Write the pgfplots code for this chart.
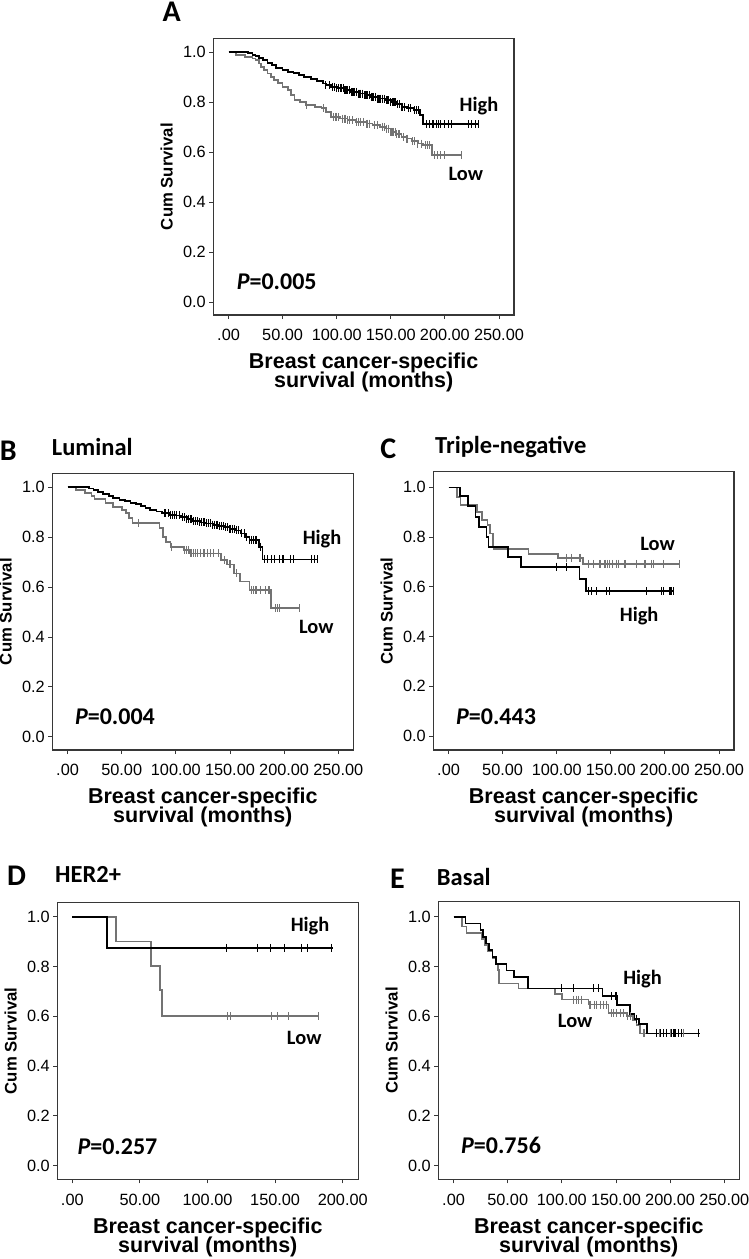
\documentclass[border=0pt]{standalone}
\usepackage{pgfplots}
\pgfplotsset{compat=1.18}
\usepackage{fontspec}
\setmainfont{Liberation Sans}
\newfontfamily\cali{Carlito}
\definecolor{lowc}{RGB}{115,115,115}
\definecolor{framec}{RGB}{55,55,55}
\newcommand{\xlfont}{\bfseries\fontsize{21.5}{19}\selectfont}
\pgfplotsset{
  km/.style={
    scale only axis, anchor=north west,
    axis line style={framec, line width=1.1pt},
    tick align=outside, xtick pos=bottom, ytick pos=left,
    major tick length=4pt,
    tick style={framec, line width=0.9pt},
    ytick={0,0.2,0.4,0.6,0.8,1.0},
    yticklabels={0.0,0.2,0.4,0.6,0.8,1.0},
    ticklabel style={font=\fontsize{16.3}{19}\selectfont},
    xticklabel style={yshift=-7pt},
    ylabel={Cum Survival},
    every axis y label/.style={at={(rel axis cs:0,0.5)}, xshift=-46.6pt, rotate=90, anchor=center, font=\bfseries\fontsize{16.7}{20}\selectfont},
    xlabel={Breast cancer-specific\\[-2pt]survival (months)},
    every axis x label/.style={at={(rel axis cs:0.5,0)}, anchor=north, yshift=-38pt, align=center, inner sep=0pt, font=\xlfont},
  },
  x250/.style={xtick={0,50,100,150,200,250}, xticklabels={.00,50.00,100.00,150.00,200.00,250.00}, xmin=-14.1, xmax=263.9},
  hi/.style={const plot, black, line width=1.7pt, mark=none},
  lo/.style={const plot, lowc, line width=1.7pt, mark=none},
  hic/.style={only marks, mark=|, mark size=4pt, black, mark options={line width=1.1pt}},
  loc/.style={only marks, mark=|, mark size=4pt, lowc, mark options={line width=1.1pt}},
}
\newcommand{\ann}[1]{{\cali\bfseries\fontsize{20.4}{24}\selectfont #1}}
\newcommand{\pval}[1]{{\cali\bfseries\fontsize{24}{24}\selectfont\textit{P}=#1}}
\begin{document}
\begin{tikzpicture}
\useasboundingbox (0,0) rectangle (749pt,-1259pt);
% panel letters and titles
\tikzset{letter/.style={anchor=base, inner sep=0pt, font=\cali\bfseries\fontsize{30}{30}\selectfont},
         ttl/.style={anchor=base west, inner sep=0pt, font=\cali\bfseries\fontsize{24.5}{26}\selectfont}}
\node[letter] at (171.7pt,-21.7pt) {A};
\node[letter] at (8.3pt,-460pt) {B};
\node[letter] at (388.3pt,-458.3pt) {C};
\node[letter] at (16.7pt,-885pt) {D};
\node[letter] at (397.5pt,-888.3pt) {E};
\node[ttl] at (51.7pt,-455pt) {Luminal};
\node[ttl] at (435pt,-453.3pt) {Triple-negative};
\node[ttl] at (55pt,-882.7pt) {HER2+};
\node[ttl] at (436.7pt,-885pt) {Basal};

% ---------------- Panel A ----------------
\begin{axis}[km, x250, at={(213.3pt,-38.3pt)}, width=300.7pt, height=276.7pt, ymin=-0.051, ymax=1.056]
\addplot[lo] coordinates {(0,1)(7,0.989)(15,0.982)(22,0.975)(25,0.969)(28,0.955)(30,0.94)(33,0.929)(36,0.915)(39,0.9)(42,0.889)(46,0.876)(50,0.862)(55,0.85)(58,0.83)(61,0.81)(66,0.8)(71,0.789)(80,0.782)(86,0.776)(90,0.76)(95,0.742)(103,0.735)(110,0.729)(118,0.722)(128,0.715)(133,0.709)(140,0.702)(145,0.695)(150,0.682)(155,0.672)(160,0.662)(165,0.655)(169,0.645)(175,0.635)(180,0.629)(188,0.589)(215.5,0.589)};
\addplot[loc] coordinates {(72,0.789)(88,0.776)(97,0.742)(99,0.742)(100,0.742)(102,0.742)(105,0.735)(107,0.735)(108,0.735)(110,0.729)(112,0.729)(115,0.729)(118,0.722)(120,0.722)(122,0.722)(125,0.722)(128,0.715)(130,0.715)(135,0.709)(138,0.709)(142,0.702)(144,0.702)(146,0.695)(148,0.695)(150,0.682)(151,0.682)(152,0.682)(154,0.682)(155,0.672)(157,0.672)(158,0.672)(162,0.662)(165,0.655)(170,0.645)(172,0.645)(175,0.635)(178,0.635)(182,0.629)(184,0.629)(186,0.629)(190,0.589)(193,0.589)(196,0.589)(200,0.589)(215,0.589)};
\addplot[hi] coordinates {(0,1.0)(18,0.996)(22,0.99)(25,0.985)(28,0.976)(32,0.968)(36,0.958)(40,0.948)(44,0.938)(50,0.93)(55,0.922)(60,0.918)(65,0.91)(70,0.902)(76,0.893)(82,0.884)(87,0.875)(90,0.869)(95,0.862)(100,0.856)(107,0.849)(113,0.842)(120,0.835)(126,0.829)(132,0.822)(138,0.815)(145,0.809)(150,0.8)(155,0.792)(160,0.782)(165,0.776)(171,0.769)(177,0.749)(180,0.712)(231,0.712)};
\addplot[hic] coordinates {(90,0.869)(93,0.869)(96,0.862)(98,0.862)(100,0.856)(102,0.856)(104,0.856)(106,0.856)(107,0.849)(108,0.849)(109,0.849)(110,0.849)(112,0.849)(114,0.842)(115,0.842)(116,0.842)(118,0.842)(120,0.835)(121,0.835)(122,0.835)(124,0.835)(126,0.829)(127,0.829)(128,0.829)(130,0.829)(132,0.822)(133,0.822)(134,0.822)(136,0.822)(138,0.815)(139,0.815)(140,0.815)(142,0.815)(144,0.815)(146,0.809)(147,0.809)(148,0.809)(150,0.8)(152,0.8)(153,0.8)(154,0.8)(156,0.792)(158,0.792)(160,0.782)(161,0.782)(163,0.782)(166,0.776)(168,0.776)(172,0.769)(174,0.769)(176,0.769)(183,0.712)(186,0.712)(189,0.712)(192,0.712)(194,0.712)(196,0.712)(200,0.712)(203,0.712)(206,0.712)(222,0.712)(225,0.712)(228,0.712)(231,0.712)};
\node[anchor=base] at (axis cs:231.5,0.762) {\ann{High}};
\node[anchor=base] at (axis cs:219.3,0.489) {\ann{Low}};
\node[anchor=base west, inner sep=0pt] at (axis cs:7.4,0.052) {\pval{0.005}};
\end{axis}

% ---------------- Panel B ----------------
\begin{axis}[km, x250, at={(52.3pt,-473.3pt)}, width=301pt, height=276.7pt, ymin=-0.053, ymax=1.056]
\addplot[lo] coordinates {(0,1)(8,0.989)(16,0.978)(22,0.965)(25,0.952)(35,0.936)(42,0.92)(50,0.91)(54,0.898)(57,0.876)(60,0.856)(85,0.836)(88,0.802)(91,0.782)(95,0.762)(107,0.749)(113,0.735)(142,0.709)(147,0.691)(154,0.655)(159,0.622)(168,0.588)(188,0.515)(214,0.515)};
\addplot[loc] coordinates {(65.5,0.856)(96,0.762)(108,0.749)(110,0.749)(112,0.749)(114,0.735)(116,0.735)(118,0.735)(120,0.735)(123,0.735)(126,0.735)(129,0.735)(132,0.735)(135,0.735)(139,0.735)(145,0.709)(150,0.691)(156,0.655)(170,0.588)(172,0.588)(174,0.588)(178,0.588)(183,0.588)(186,0.588)(192,0.515)(194,0.515)(196,0.515)(214,0.515)};
\addplot[hi] coordinates {(0,1)(20,0.995)(24,0.988)(28,0.98)(33,0.972)(38,0.965)(42,0.958)(48,0.95)(53,0.944)(58,0.938)(63,0.933)(68,0.925)(72,0.917)(76,0.91)(82,0.903)(87,0.896)(94,0.89)(100,0.887)(105,0.88)(110,0.872)(116,0.864)(122,0.859)(128,0.855)(134,0.85)(140,0.845)(145,0.84)(150,0.833)(155,0.827)(160,0.815)(164,0.8)(168,0.789)(177,0.762)(180,0.711)(231,0.711)};
\addplot[hic] coordinates {(90,0.896)(93,0.896)(95,0.89)(97,0.89)(99,0.89)(101,0.887)(103,0.887)(106,0.88)(108,0.88)(110,0.872)(112,0.872)(114,0.872)(116,0.864)(118,0.864)(120,0.864)(122,0.859)(124,0.859)(126,0.859)(128,0.855)(130,0.855)(132,0.855)(134,0.85)(136,0.85)(138,0.85)(140,0.845)(142,0.845)(144,0.845)(146,0.84)(148,0.84)(150,0.833)(152,0.833)(154,0.833)(156,0.827)(158,0.827)(161,0.815)(163,0.815)(165,0.8)(168,0.789)(170,0.789)(172,0.789)(174,0.789)(178,0.762)(182,0.711)(185,0.711)(188,0.711)(191,0.711)(196,0.711)(199,0.711)(206,0.711)(209,0.711)(225,0.711)(228,0.711)(231,0.711)};
\node[anchor=base] at (axis cs:235,0.769) {\ann{High}};
\node[anchor=base] at (axis cs:229.7,0.415) {\ann{Low}};
\node[anchor=base west, inner sep=0pt] at (axis cs:6.7,0.051) {\pval{0.004}};
\end{axis}

% ---------------- Panel C ----------------
\begin{axis}[km, x250, at={(433.3pt,-471.7pt)}, width=300.7pt, height=278.3pt, ymin=-0.056, ymax=1.063]
\addplot[lo] coordinates {(0,1)(8,0.962)(11,0.93)(26,0.902)(31,0.868)(36,0.848)(38,0.815)(41,0.761)(42,0.751)(74,0.732)(101,0.717)(124.5,0.692)(214,0.692)};
\addplot[loc] coordinates {(109.2,0.717)(113.8,0.717)(121.5,0.717)(129.1,0.692)(133.8,0.692)(140,0.692)(144.6,0.692)(146.7,0.692)(149.2,0.692)(151.7,0.692)(155.4,0.692)(156.9,0.692)(163.1,0.692)(173.9,0.692)(181.6,0.692)(187.8,0.692)(189.3,0.692)(198.5,0.692)(213.3,0.692)};
\addplot[hi] coordinates {(0,1)(10.5,0.965)(18,0.925)(25,0.882)(28,0.842)(35,0.801)(37,0.761)(55,0.721)(67,0.681)(121,0.631)(127,0.583)(208,0.583)};
\addplot[hic] coordinates {(100,0.681)(109,0.681)(129.1,0.583)(132.3,0.583)(136.9,0.583)(146.2,0.583)(149.2,0.583)(183.2,0.583)(197,0.583)(198.5,0.583)(204.7,0.583)(206.3,0.583)(207.8,0.583)};
\node[anchor=base] at (axis cs:193.2,0.748) {\ann{Low}};
\node[anchor=base] at (axis cs:176.2,0.46) {\ann{High}};
\node[anchor=base west, inner sep=0pt] at (axis cs:6.8,0.048) {\pval{0.443}};
\end{axis}

% ---------------- Panel D ----------------
\begin{axis}[km, at={(57.3pt,-902.3pt)}, width=301pt, height=277pt, ymin=-0.055, ymax=1.058,
  xtick={0,50,100,150,200}, xticklabels={.00,50.00,100.00,150.00,200.00}, xmin=-11.1, xmax=211.5]
\addplot[lo] coordinates {(0,1)(32.3,0.9)(58,0.802)(64.9,0.706)(66.1,0.601)(182,0.601)};
\addplot[loc] coordinates {(115,0.601)(116.7,0.601)(147.5,0.601)(152,0.601)(160,0.601)(182,0.601)};
\addplot[hi] coordinates {(0,1)(25.4,0.875)(193,0.875)};
\addplot[hic] coordinates {(114.2,0.875)(137.1,0.875)(146.7,0.875)(156.8,0.875)(169.2,0.875)(173.8,0.875)(191.9,0.875)};
\node[anchor=base] at (axis cs:175.8,0.94) {\ann{High}};
\node[anchor=base] at (axis cs:171.5,0.485) {\ann{Low}};
\node[anchor=base west, inner sep=0pt] at (axis cs:3.7,0.043) {\pval{0.257}};
\end{axis}

% ---------------- Panel E ----------------
\begin{axis}[km, x250, at={(438.3pt,-901.7pt)}, width=301pt, height=277.6pt, ymin=-0.055, ymax=1.06]
\addplot[lo] coordinates {(0,1)(8,0.961)(12,0.935)(26,0.91)(29,0.885)(32,0.86)(36,0.835)(39,0.81)(41,0.785)(42,0.732)(60,0.712)(94,0.69)(100,0.667)(124.5,0.647)(143,0.612)(160,0.6)(166,0.585)(169,0.566)(172,0.531)(212,0.531)};
\addplot[loc] coordinates {(110.7,0.667)(113.2,0.667)(115.3,0.667)(118.4,0.667)(126,0.647)(129.9,0.647)(132.3,0.647)(135.4,0.647)(138.5,0.647)(141.6,0.647)(146,0.612)(147.7,0.612)(150.7,0.612)(153.8,0.612)(156.9,0.612)(161,0.6)(163,0.6)(175.9,0.531)(190,0.531)(200,0.531)(212,0.531)};
\addplot[hi] coordinates {(0,1)(11,0.973)(25,0.946)(27,0.919)(30,0.892)(33,0.865)(36,0.838)(39,0.811)(49,0.784)(56,0.757)(69,0.712)(137.5,0.68)(151,0.645)(163,0.609)(167,0.59)(171,0.57)(178.5,0.531)(228,0.531)};
\addplot[hic] coordinates {(100,0.712)(110.7,0.712)(129.2,0.712)(133.8,0.712)(146,0.68)(150,0.68)(169,0.59)(187.6,0.531)(190.7,0.531)(193.8,0.531)(196.9,0.531)(201.5,0.531)(203,0.531)(204.5,0.531)(207.6,0.531)(210.7,0.531)(226,0.531)};
\node[anchor=base] at (axis cs:174.5,0.727) {\ann{High}};
\node[anchor=base] at (axis cs:112.3,0.555) {\ann{Low}};
\node[anchor=base west, inner sep=0pt] at (axis cs:6.8,0.049) {\pval{0.756}};
\end{axis}
\end{tikzpicture}
\end{document}
